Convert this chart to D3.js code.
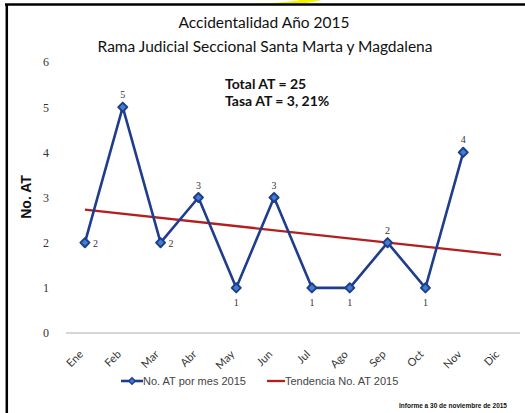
<!DOCTYPE html>
<html>
<head>
<meta charset="utf-8">
<script src="https://cdn.jsdelivr.net/npm/d3@7"></script>
<style>
  body { margin:0; background:#fff; }
  svg { display:block; }
</style>
</head>
<body>
<div id="chart-area"></div>
<script>
// data
const months = ["Ene","Feb","Mar","Abr","May","Jun","Jul","Ago","Sep","Oct","Nov","Dic"];
const accidents = [2,5,2,3,1,3,1,1,2,1,4];
const labelSide = ["right","above","right","above","below","above","below","below","above","below","above"];
const trendMonths = ["Ene","Dic"];
const trendValues = [2.73, 1.73];
const yTicks = [0,1,2,3,4,5,6];

const width = 525, height = 413;

const svg = d3.select("#chart-area")
  .append("svg")
  .attr("width", width)
  .attr("height", height);

// frame + yellow bit on top
svg.append("path")
  .attr("d", "M248,4 Q285,3 300,0 L322,0 Q300,5 285,5 Z")
  .attr("fill", "#f2f200");
svg.append("line")
  .attr("x1", 5).attr("x2", 525).attr("y1", 4.5).attr("y2", 4.5)
  .attr("stroke", "#000").attr("stroke-width", 2.5);
svg.append("line")
  .attr("x1", 6.8).attr("x2", 6.8).attr("y1", 4).attr("y2", 413)
  .attr("stroke", "#000").attr("stroke-width", 2.5);

const x = d3.scaleBand().domain(months).range([66, 520]);
const cx = m => x(m) + x.bandwidth() / 2;
const y = d3.scaleLinear().domain([0, 6]).range([333, 62]);

// Titles
svg.append("text")
  .attr("x", 264).attr("y", 28)
  .attr("text-anchor", "middle")
  .attr("font-family", "Lato")
  .attr("font-size", "15.5px")
  .attr("fill", "#111")
  .text("Accidentalidad Año 2015");
svg.append("text")
  .attr("x", 265).attr("y", 52)
  .attr("text-anchor", "middle")
  .attr("font-family", "Lato")
  .attr("font-size", "15.5px")
  .attr("fill", "#111")
  .text("Rama Judicial Seccional Santa Marta y Magdalena");

// Y axis (labels only)
const yAxis = svg.append("g")
  .attr("transform", "translate(49,0)")
  .call(d3.axisLeft(y).tickValues(yTicks).tickFormat(d3.format("d")).tickSize(0).tickPadding(0));
yAxis.select(".domain").remove();
yAxis.selectAll("text")
  .attr("font-family", "Liberation Serif")
  .attr("font-size", "12px")
  .attr("fill", "#333");

svg.append("text")
  .attr("transform", "translate(31,197) rotate(-90)")
  .attr("text-anchor", "middle")
  .attr("font-family", "Liberation Sans")
  .attr("font-weight", "bold")
  .attr("font-size", "14px")
  .attr("fill", "#111")
  .text("No. AT");

// X axis line
svg.append("line")
  .attr("x1", 66).attr("x2", 520)
  .attr("y1", y(0)).attr("y2", y(0))
  .attr("stroke", "#c8c8c8").attr("stroke-width", 1.5);

svg.selectAll(".month")
  .data(months)
  .enter().append("text")
  .attr("class", "month")
  .attr("transform", d => "translate(" + (cx(d) - 1) + ",355) rotate(-45)")
  .attr("text-anchor", "end")
  .attr("font-family", "Lato")
  .attr("font-size", "11px")
  .attr("fill", "#333")
  .text(d => d);

// annotation
svg.append("text")
  .attr("x", 225).attr("y", 89)
  .attr("font-family", "Lato")
  .attr("font-weight", "bold")
  .attr("font-size", "14px")
  .attr("fill", "#111")
  .text("Total AT = 25");
svg.append("text")
  .attr("x", 225).attr("y", 106)
  .attr("font-family", "Lato")
  .attr("font-weight", "bold")
  .attr("font-size", "14px")
  .attr("fill", "#111")
  .text("Tasa AT = 3, 21%");

// trend line
const trend = trendMonths.map((m, i) => ({m: m, v: trendValues[i]}));
svg.append("path")
  .attr("fill", "none")
  .attr("stroke", "#b41e1e")
  .attr("stroke-width", 2.3)
  .attr("d", d3.line().x(d => cx(d.m)).y(d => y(d.v))(trend));

// series
const pts = accidents.map((v, i) => ({m: months[i], v: v, side: labelSide[i]}));
svg.append("path")
  .attr("fill", "none")
  .attr("stroke", "#1f3d8c")
  .attr("stroke-width", 2.6)
  .attr("stroke-linejoin", "round")
  .attr("d", d3.line().x(d => cx(d.m)).y(d => y(d.v))(pts));

const diamond = d3.symbol().type(d3.symbolDiamond2).size(52);
svg.selectAll(".pt")
  .data(pts)
  .enter().append("path")
  .attr("class", "pt")
  .attr("transform", d => "translate(" + cx(d.m) + "," + y(d.v) + ")")
  .attr("d", diamond)
  .attr("fill", "#3f7fd0")
  .attr("stroke", "#1f3d8c")
  .attr("stroke-width", 2)
  .attr("stroke-linejoin", "round");

svg.selectAll(".lbl")
  .data(pts)
  .enter().append("text")
  .attr("class", "lbl")
  .attr("x", d => d.side === "right" ? cx(d.m) + 8 : cx(d.m))
  .attr("y", d => d.side === "above" ? y(d.v) - 9 : d.side === "below" ? y(d.v) + 18 : y(d.v) + 4)
  .attr("text-anchor", d => d.side === "right" ? "start" : "middle")
  .attr("font-family", "Liberation Serif")
  .attr("font-size", "10px")
  .attr("fill", "#333")
  .text(d => d.v);

// legend
const lg = svg.append("g").attr("transform", "translate(0,381)");
lg.append("line").attr("x1", 121).attr("x2", 143).attr("y1", 0).attr("y2", 0)
  .attr("stroke", "#1f3d8c").attr("stroke-width", 2.6);
lg.append("path").attr("transform", "translate(132,0)")
  .attr("d", d3.symbol().type(d3.symbolDiamond2).size(26))
  .attr("fill", "#3f7fd0").attr("stroke", "#1f3d8c").attr("stroke-width", 1.5);
lg.append("text").attr("x", 143).attr("y", 4)
  .attr("font-family", "Liberation Sans").attr("font-size", "11px").attr("fill", "#444")
  .text("No. AT por mes 2015");
lg.append("line").attr("x1", 267).attr("x2", 285).attr("y1", 0).attr("y2", 0)
  .attr("stroke", "#b41e1e").attr("stroke-width", 2.3);
lg.append("text").attr("x", 285).attr("y", 4)
  .attr("font-family", "Liberation Sans").attr("font-size", "11px").attr("fill", "#444")
  .text("Tendencia No. AT 2015");

svg.append("text")
  .attr("x", 507).attr("y", 408)
  .attr("text-anchor", "end")
  .attr("font-family", "Liberation Sans Narrow, Liberation Sans")
  .attr("font-weight", "bold")
  .attr("font-size", "6.5px")
  .attr("fill", "#111")
  .text("Informe a 30 de noviembre de 2015");
</script>
</body>
</html>
